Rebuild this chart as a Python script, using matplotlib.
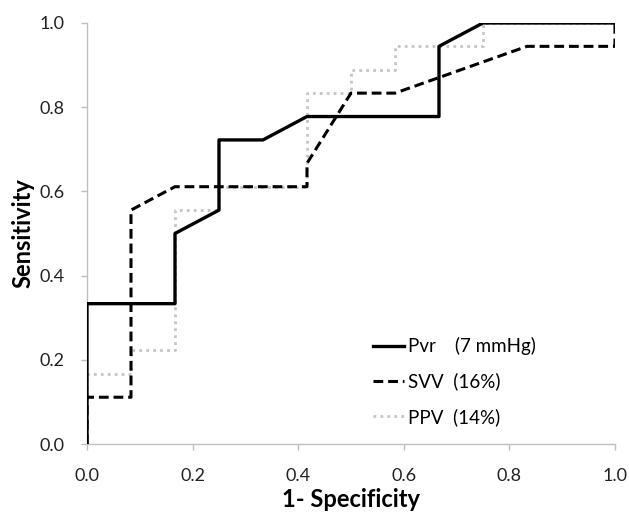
import matplotlib
matplotlib.use("Agg")
import matplotlib.pyplot as plt

plt.rcParams['font.family'] = ['Lato', 'DejaVu Sans']

# data (1 - specificity, sensitivity)
pvr_x = [0, 0, 1/6, 1/6, 0.25, 0.25, 1/3, 5/12, 2/3, 2/3, 0.75, 1.0]
pvr_y = [0, 1/3, 1/3, 0.5, 10/18, 13/18, 13/18, 14/18, 14/18, 17/18, 1.0, 1.0]

svv_x = [0, 0, 1/12, 1/12, 1/6, 5/12, 5/12, 0.5, 7/12, 10/12, 1.0, 1.0]
svv_y = [0, 2/18, 2/18, 10/18, 11/18, 11/18, 12/18, 15/18, 15/18, 17/18, 17/18, 1.0]

ppv_x = [0, 0, 1/12, 1/12, 1/6, 1/6, 0.25, 0.25, 5/12, 5/12, 0.5, 0.5, 7/12, 7/12, 0.75, 0.75, 1.0]
ppv_y = [0, 3/18, 3/18, 4/18, 4/18, 10/18, 10/18, 11/18, 11/18, 15/18, 15/18, 16/18, 16/18, 17/18, 17/18, 1.0, 1.0]

labels = ["Pvr    (7 mmHg)", "SVV  (16%)", "PPV  (14%)"]
ticks = [0.0, 0.2, 0.4, 0.6, 0.8, 1.0]
tick_labels = ["0.0", "0.2", "0.4", "0.6", "0.8", "1.0"]

fig = plt.figure(figsize=(6.29, 5.16), dpi=100)
ax = fig.add_axes([0.1383, 0.1395, 0.8394, 0.816])

ax.plot(ppv_x, ppv_y, color='#c4c4c4', lw=2.0, linestyle=(0, (1, 1.5)), label=labels[2], zorder=2)
ax.plot(svv_x, svv_y, color='black', lw=2.2, linestyle=(0, (3.2, 1.6)), label=labels[1], zorder=3)
ax.plot(pvr_x, pvr_y, color='black', lw=2.4, linestyle='-', label=labels[0], zorder=4)

ax.set_xlim(0, 1)
ax.set_ylim(0, 1)
ax.set_xticks(ticks)
ax.set_xticklabels(tick_labels)
ax.set_yticks(ticks)
ax.set_yticklabels(tick_labels)

for s in ['top', 'right']:
    ax.spines[s].set_visible(False)
for s in ['left', 'bottom']:
    ax.spines[s].set_color('#bfbfbf')
    ax.spines[s].set_linewidth(1.0)
ax.tick_params(axis='both', direction='out', length=4, width=1.0, color='#bfbfbf',
               labelsize=13, labelcolor='#222222')
ax.tick_params(axis='x', pad=13)
ax.tick_params(axis='y', pad=12)

ax.set_xlabel("1- Specificity", fontsize=17, fontweight='bold', labelpad=3)
ax.set_ylabel("Sensitivity", fontsize=17, fontweight='bold', labelpad=4)

h, l = ax.get_legend_handles_labels()
order = [2, 1, 0]
leg = ax.legend([h[i] for i in order], [l[i] for i in order], loc='upper left',
                bbox_to_anchor=(0.542, 0.254), frameon=False, fontsize=13.5,
                borderpad=0, borderaxespad=0,
                handlelength=1.65, handletextpad=0.2, labelspacing=0.93)

fig.savefig("out.png", dpi=100)
